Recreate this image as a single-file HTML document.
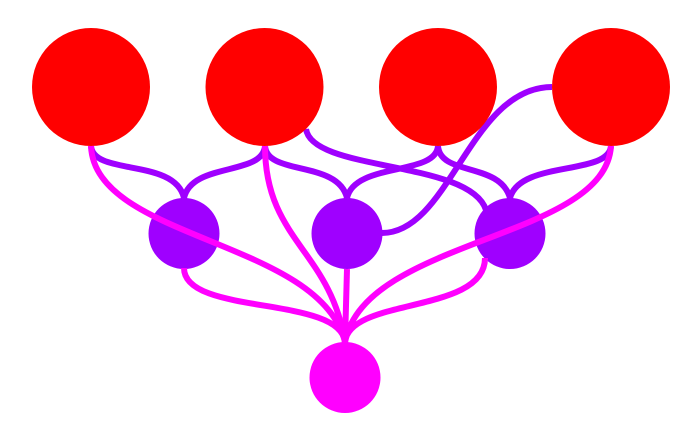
<!DOCTYPE html>
<html><head><meta charset="utf-8"><style>html,body{margin:0;padding:0;background:#fff}svg{display:block}</style></head>
<body><svg width="699" height="438" viewBox="0 0 699 438" xmlns="http://www.w3.org/2000/svg">
<rect width="699" height="438" fill="#fff"/>
<g fill="none" stroke="#9f00ff" stroke-width="6">
<path d="M91 146C93 176 175 158 184 198"/>
<path d="M265 146C263 176 192 162 184 198"/>
<path d="M265 146C267 176 338 160 347 198"/>
<path d="M438 146C436 176 355 162 347 198"/>
<path d="M438 146C440 176 500 162 510 198"/>
<path d="M611 146C609 176 520 160 510 198"/>
<path d="M306 129C312 172 470 160 486 210"/>
<path d="M382 233C450 233 470 87 552 87"/>
</g>
<g fill="#f00">
<circle cx="91" cy="87" r="59"/><circle cx="264.500" cy="87" r="59"/><circle cx="438" cy="87" r="59"/><circle cx="611" cy="87" r="59"/>
</g>
<g fill="#9f00ff">
<circle cx="184" cy="233.500" r="35.500"/><circle cx="347" cy="233.500" r="35.500"/><circle cx="510" cy="233.500" r="35.500"/>
</g>
<g fill="none" stroke="#f0f" stroke-width="6">
<path d="M91 146C95 240 320 240 345 342"/>
<path d="M265 146C265 240 330 250 345 342"/>
<path d="M611 146C605 240 365 238 345 342"/>
<path d="M184 268C184 316 340 295 345 342"/>
<path d="M485 258C485 314 350 297 345 342"/>
<path d="M347 269L345 342"/>
</g>
<circle cx="345" cy="377.500" r="35.500" fill="#f0f"/>
</svg></body></html>
